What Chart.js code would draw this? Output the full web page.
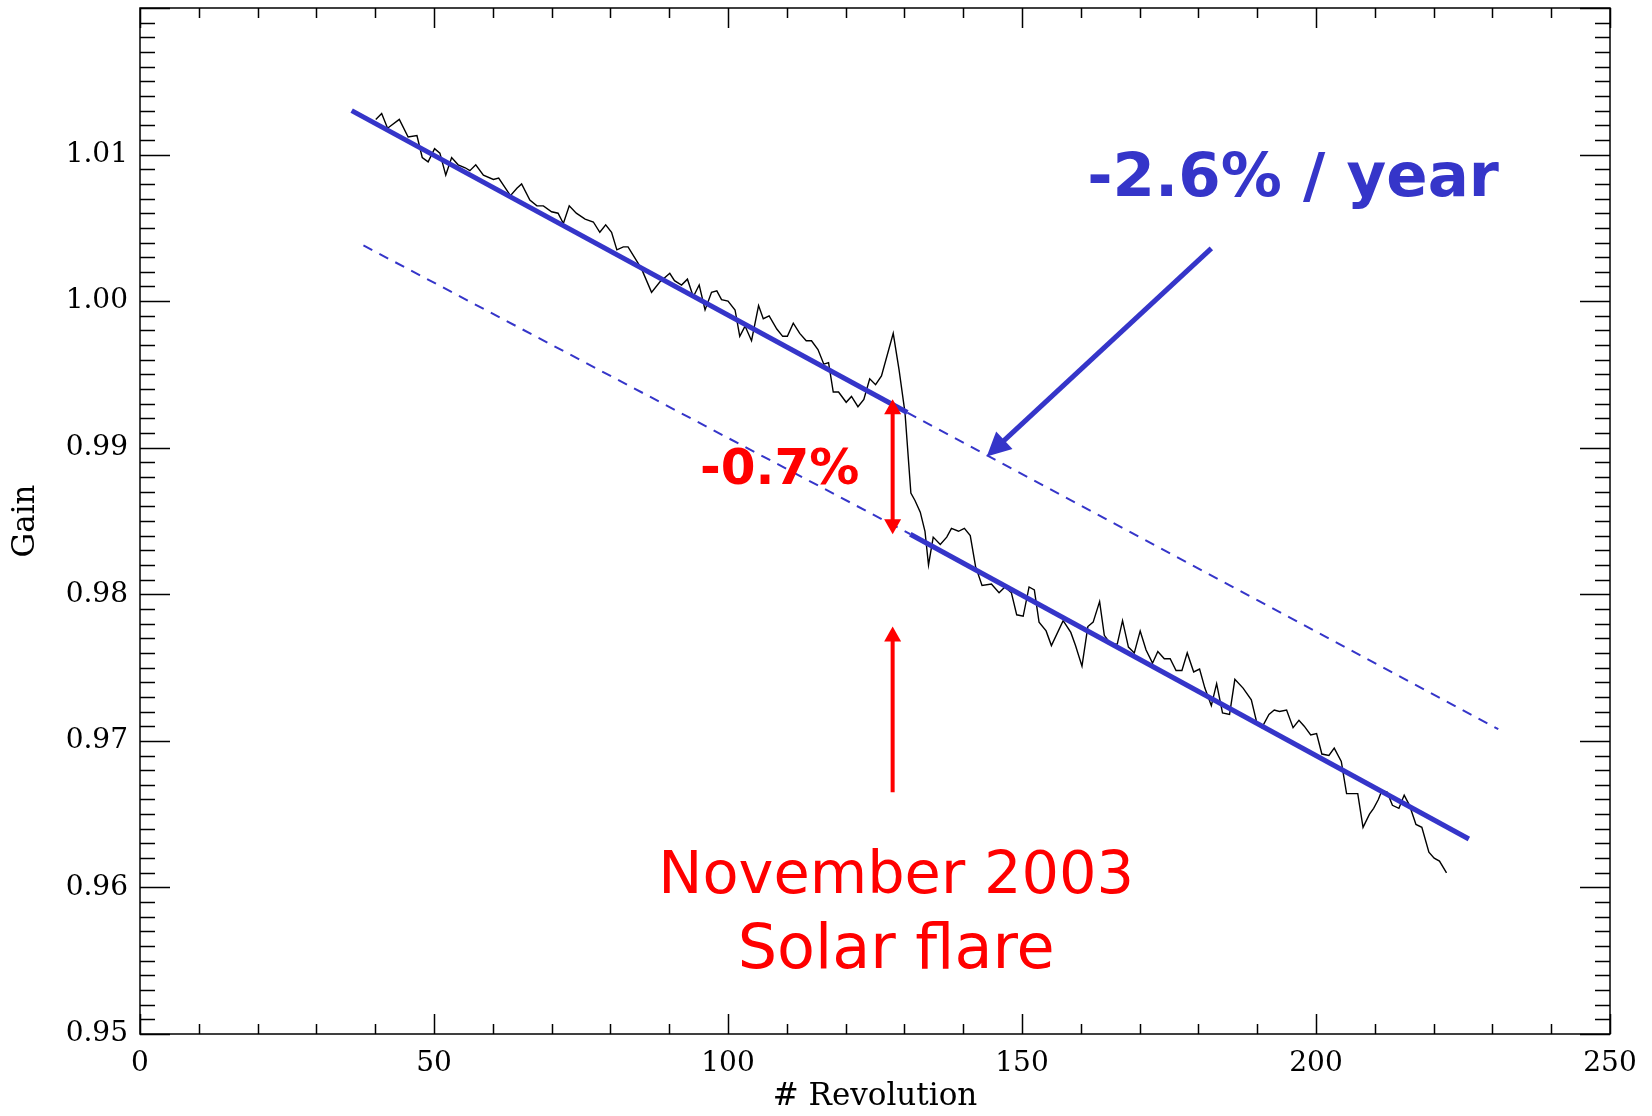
<!DOCTYPE html>
<html lang="en">
<head>
<meta charset="UTF-8">
<title>Gain vs Revolution</title>
<script src="https://cdn.jsdelivr.net/npm/chart.js"></script>
<style>
  html, body { margin: 0; padding: 0; background: #fff; }
  canvas { display: block; }
</style>
</head>
<body>
<canvas id="gainChart" width="1652" height="1116"></canvas>
<script>
const revolution = [
  40.1, 41.1, 42.1, 44.1, 45.6, 47.1, 48.0, 49.0, 50.1, 51.0, 52.0, 53.0, 54.1, 55.3, 56.1, 57.1,
  58.4, 60.1, 61.0, 63.0, 64.1, 64.9, 66.3, 67.5, 68.6, 70.0, 71.1, 72.0, 73.0, 74.2, 75.7, 77.1,
  78.2, 79.2, 80.2, 81.1, 82.2, 83.0, 85.3, 87.0, 88.4, 90.1, 90.9, 92.1, 93.1, 94.1, 95.1, 96.1,
  97.2, 98.1, 98.9, 100.0, 101.2, 102.0, 102.9, 104.0, 105.2, 106.0, 107.0, 108.3, 109.3, 110.1,
  111.1, 112.2, 113.3, 114.2, 115.3, 116.3, 117.1, 117.9, 118.8, 120.1, 121.0, 122.1, 123.1, 124.1,
  125.1, 126.1, 128.1, 129.1, 130.1, 131.1, 131.8, 132.7, 133.5, 134.1, 134.9, 136.1, 137.2, 138.0,
  139.2, 140.2, 141.2, 142.1, 143.2, 144.8, 146.1, 147.1, 148.2, 149.1, 150.2, 151.2, 152.1, 152.9,
  154.1, 155.0, 157.0, 158.3, 159.1, 160.2, 161.2, 162.1, 163.2, 164.0, 165.1, 166.2, 167.1, 168.1,
  169.1, 170.1, 171.1, 172.2, 173.1, 174.2, 175.2, 176.2, 177.2, 178.1, 179.2, 180.2, 181.1, 182.2,
  183.1, 184.1, 185.3, 186.2, 187.6, 189.0, 189.9, 190.8, 192.0, 192.9, 193.8, 195.0, 196.1, 197.1,
  198.0, 199.1, 200.1, 201.0, 202.2, 203.1, 204.3, 205.2, 206.1, 207.1, 208.0, 209.1, 209.8, 210.6,
  211.2, 212.1, 213.0, 214.1, 215.0, 215.9, 217.0, 218.0, 219.2, 220.1, 221.0, 222.2
];
const gain = [
  1.0124, 1.0128, 1.0118, 1.0124, 1.0112, 1.0113, 1.0098, 1.0095, 1.0104, 1.0101, 1.0086, 1.0098, 1.0093, 1.0091, 1.0089, 1.0093,
  1.0086, 1.0083, 1.0084, 1.0072, 1.0077, 1.0080, 1.0069, 1.0065, 1.0065, 1.0061, 1.0060, 1.0053, 1.0065, 1.0060, 1.0056, 1.0054,
  1.0047, 1.0052, 1.0047, 1.0035, 1.0037, 1.0037, 1.0022, 1.0006, 1.0013, 1.0019, 1.0014, 1.0011, 1.0015, 1.0003, 1.0011, 0.9994,
  1.0006, 1.0007, 1.0001, 1.0000, 0.9994, 0.9976, 0.9983, 0.9973, 0.9997, 0.9988, 0.9990, 0.9981, 0.9976, 0.9976,
  0.9985, 0.9978, 0.9973, 0.9973, 0.9967, 0.9957, 0.9958, 0.9938, 0.9938, 0.9931, 0.9935, 0.9928, 0.9933, 0.9947,
  0.9943, 0.9949, 0.9978, 0.9953, 0.9924, 0.9869, 0.9864, 0.9856, 0.9843, 0.9820, 0.9839, 0.9834, 0.9839, 0.9845,
  0.9843, 0.9845, 0.9840, 0.9819, 0.9806, 0.9807, 0.9801, 0.9805, 0.9801, 0.9786, 0.9785, 0.9805, 0.9803, 0.9781,
  0.9775, 0.9765, 0.9782, 0.9774, 0.9765, 0.9751, 0.9778, 0.9781, 0.9795, 0.9772, 0.9766, 0.9766, 0.9782, 0.9764,
  0.9760, 0.9775, 0.9762, 0.9753, 0.9761, 0.9756, 0.9756, 0.9748, 0.9748, 0.9760, 0.9747, 0.9749, 0.9736, 0.9724,
  0.9739, 0.9719, 0.9718, 0.9742, 0.9736, 0.9728, 0.9713, 0.9709, 0.9718, 0.9721, 0.9720, 0.9721, 0.9709, 0.9714,
  0.9710, 0.9704, 0.9705, 0.9691, 0.9690, 0.9695, 0.9686, 0.9664, 0.9664, 0.9664, 0.9641, 0.9650, 0.9654, 0.9660,
  0.9666, 0.9665, 0.9656, 0.9654, 0.9663, 0.9656, 0.9643, 0.9641, 0.9624, 0.9620, 0.9618, 0.9610
];

// linear fits: before and after the flare, with their dashed extensions
const upperFitX = [36, 130.5];
const upperFitY = [1.0130, 0.9924];
const upperExtX = [130.5, 231];
const upperExtY = [0.9924, 0.9708];
const lowerExtX = [38, 131];
const lowerExtY = [1.0038, 0.9841];
const lowerFitX = [131, 226];
const lowerFitY = [0.9841, 0.9633];

const xTicks = [0, 50, 100, 150, 200, 250];
const yTicks = [0.95, 0.96, 0.97, 0.98, 0.99, 1.00, 1.01];

const BLUE = '#3535c9';
const RED = '#ff0000';

function pts(xs, ys) {
  return xs.map((v, i) => ({x: v, y: ys[i]}));
}

function fitLine(xs, ys, dashed) {
  return {
    data: pts(xs, ys),
    borderColor: BLUE,
    borderWidth: dashed ? 2 : 5,
    borderDash: dashed ? [10, 8] : [],
    borderCapStyle: 'butt',
    pointRadius: 0,
    showLine: true,
    order: 0
  };
}

// box with inward major/minor ticks on all four sides
const frameTicks = {
  id: 'frameTicks',
  afterDatasetsDraw(chart) {
    const {ctx, chartArea: a, scales: {x, y}} = chart;
    ctx.save();
    ctx.strokeStyle = '#000';
    ctx.lineWidth = 1.5;
    ctx.strokeRect(a.left, a.top, a.right - a.left, a.bottom - a.top);
    ctx.beginPath();
    for (let v = 0; v <= 250; v += 10) {
      const px = Math.round(x.getPixelForValue(v)) + 0.5;
      const len = v % 50 === 0 ? 20 : 10;
      ctx.moveTo(px, a.bottom); ctx.lineTo(px, a.bottom - len);
      ctx.moveTo(px, a.top); ctx.lineTo(px, a.top + len);
    }
    for (let k = 0; k <= 70; k++) {
      const py = Math.round(y.getPixelForValue(0.95 + k * 0.001)) + 0.5;
      const len = k % 10 === 0 ? 30 : 15;
      ctx.moveTo(a.left, py); ctx.lineTo(a.left + len, py);
      ctx.moveTo(a.right, py); ctx.lineTo(a.right - len, py);
    }
    ctx.stroke();
    ctx.restore();
  }
};

function arrow(ctx, x0, y0, x1, y1, color, width, headLen, headHalf, both) {
  const ang = Math.atan2(y1 - y0, x1 - x0);
  const c = Math.cos(ang), s = Math.sin(ang);
  ctx.strokeStyle = color;
  ctx.fillStyle = color;
  ctx.lineWidth = width;
  ctx.beginPath();
  ctx.moveTo(both ? x0 + c * headLen * 0.9 : x0, both ? y0 + s * headLen * 0.9 : y0);
  ctx.lineTo(x1 - c * headLen * 0.9, y1 - s * headLen * 0.9);
  ctx.stroke();
  const head = (hx, hy, dc, ds) => {
    ctx.beginPath();
    ctx.moveTo(hx, hy);
    ctx.lineTo(hx - dc * headLen - ds * headHalf, hy - ds * headLen + dc * headHalf);
    ctx.lineTo(hx - dc * headLen + ds * headHalf, hy - ds * headLen - dc * headHalf);
    ctx.closePath();
    ctx.fill();
  };
  head(x1, y1, c, s);
  if (both) head(x0, y0, -c, -s);
}

// arrows and labels, placed in data units
const rateArrow = [[182.2, 1.0036], [144.0, 0.9894]];
const jumpArrow = [[128, 0.9933], [128, 0.9841]];
const flareArrow = [[128, 0.9665], [128, 0.9778]];

const annotations = {
  id: 'annotations',
  afterDatasetsDraw(chart) {
    const {ctx, scales: {x, y}} = chart;
    const P = p => [x.getPixelForValue(p[0]), y.getPixelForValue(p[1])];
    ctx.save();
    let a = P(rateArrow[0]), b = P(rateArrow[1]);
    arrow(ctx, a[0], a[1], b[0], b[1], BLUE, 5, 24, 12, false);
    a = P(jumpArrow[0]); b = P(jumpArrow[1]);
    arrow(ctx, a[0], a[1], b[0], b[1], RED, 4, 15, 8.5, true);
    a = P(flareArrow[0]); b = P(flareArrow[1]);
    arrow(ctx, a[0], a[1], b[0], b[1], RED, 4, 15, 8.5, false);

    ctx.textAlign = 'center';
    ctx.textBaseline = 'alphabetic';
    ctx.fillStyle = BLUE;
    ctx.font = 'bold 61px "DejaVu Sans"';
    ctx.fillText('-2.6% / year', x.getPixelForValue(196.1), y.getPixelForValue(1.0072));
    ctx.fillStyle = RED;
    ctx.font = 'bold 50px "DejaVu Sans"';
    ctx.fillText('-0.7%', x.getPixelForValue(108.8), y.getPixelForValue(0.9875));
    ctx.font = '59px "DejaVu Sans"';
    ctx.fillText('November 2003', x.getPixelForValue(128.6), y.getPixelForValue(0.95964));
    ctx.font = '62px "DejaVu Sans"';
    ctx.fillText('Solar flare', x.getPixelForValue(128.6), y.getPixelForValue(0.95453));
    ctx.restore();
  }
};

const tickFont = {family: 'DejaVu Serif', size: 28};
const titleFont = {family: 'DejaVu Serif', size: 31};

new Chart(document.getElementById('gainChart'), {
  type: 'scatter',
  data: {
    datasets: [
      fitLine(upperFitX, upperFitY, false),
      fitLine(upperExtX, upperExtY, true),
      fitLine(lowerExtX, lowerExtY, true),
      fitLine(lowerFitX, lowerFitY, false),
      {
        data: pts(revolution, gain),
        borderColor: '#000',
        borderWidth: 1.4,
        pointRadius: 0,
        showLine: true,
        tension: 0,
        order: 1
      }
    ]
  },
  options: {
    responsive: false,
    animation: false,
    devicePixelRatio: 1,
    layout: {padding: {top: 8, right: 42, left: 0, bottom: 0}},
    plugins: {legend: {display: false}, tooltip: {enabled: false}},
    scales: {
      x: {
        type: 'linear',
        min: 0, max: 250,
        afterBuildTicks: s => { s.ticks = xTicks.map(v => ({value: v})); },
        afterFit: s => { s.height = 82; },
        grid: {display: false, drawTicks: false},
        border: {display: false},
        ticks: {font: tickFont, color: '#000', padding: 13, maxRotation: 0, callback: v => String(v)},
        title: {display: true, text: '# Revolution', font: titleFont, color: '#000', padding: {top: 0, bottom: 0}}
      },
      y: {
        type: 'linear',
        min: 0.95, max: 1.02,
        afterBuildTicks: s => { s.ticks = yTicks.map(v => ({value: v})); },
        afterFit: s => { s.width = 140; s.paddingTop = 0; },
        grid: {display: false, drawTicks: false},
        border: {display: false},
        ticks: {font: tickFont, color: '#000', padding: 12, callback: v => v.toFixed(2)},
        title: {display: true, text: 'Gain', font: titleFont, color: '#000', padding: {top: 7, bottom: 0}}
      }
    }
  },
  plugins: [frameTicks, annotations]
});
</script>
</body>
</html>
